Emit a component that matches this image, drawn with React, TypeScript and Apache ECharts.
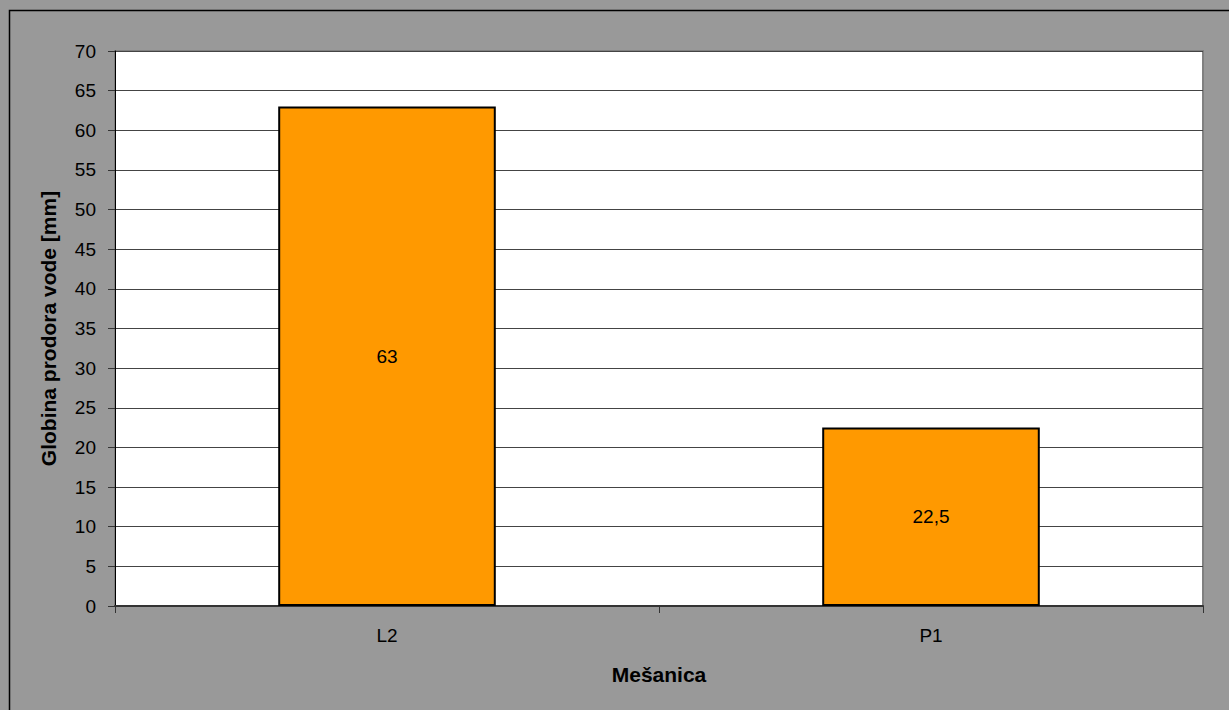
import React, { useEffect, useRef } from "react";
import * as echarts from "echarts";

const categories = ["L2", "P1"];
const depthValues = [63, 22.5];
const yAxisName = "Globina prodora vode [mm]";
const xAxisName = "Mešanica";

export default function App() {
  const ref = useRef<HTMLDivElement>(null);
  useEffect(() => {
    if (!ref.current) return;
    const chart = echarts.init(ref.current, undefined, { renderer: "svg" });
    const font = "'Liberation Sans', Arial, sans-serif";
    chart.setOption({
      animation: false,
      backgroundColor: "#999999",
      textStyle: { fontFamily: font },
      graphic: [
        {
          type: "polyline",
          shape: { points: [[9.5, 800], [9.5, 10.5], [1300, 10.5]] },
          style: { fill: "none", stroke: "#000", lineWidth: 1.5 },
          z: 100,
        },
      ],
      grid: {
        left: 115,
        top: 51,
        right: 26,
        bottom: 104,
        show: true,
        backgroundColor: "#ffffff",
        borderColor: "#808080",
        borderWidth: 2,
      },
      xAxis: {
        type: "category",
        data: categories,
        name: xAxisName,
        nameLocation: "middle",
        nameGap: 58,
        nameTextStyle: { fontSize: 21, fontWeight: "bold", color: "#000", fontFamily: font },
        axisLine: { show: true, lineStyle: { color: "#333", width: 2 } },
        axisTick: { show: true, length: 7, lineStyle: { color: "#333" } },
        axisLabel: { fontSize: 19, color: "#000", margin: 20, fontFamily: font },
      },
      yAxis: {
        type: "value",
        min: 0,
        max: 70,
        interval: 5,
        name: yAxisName,
        nameLocation: "middle",
        nameGap: 56,
        nameTextStyle: { fontSize: 21, fontWeight: "bold", color: "#000", fontFamily: font },
        axisLine: { show: true, lineStyle: { color: "#000", width: 1 } },
        axisTick: { show: true, length: 7, lineStyle: { color: "#333" } },
        axisLabel: { fontSize: 19, color: "#000", margin: 19, fontFamily: font },
        splitLine: { show: true, lineStyle: { color: "#444", width: 1 } },
      },
      series: [
        {
          type: "bar",
          data: depthValues,
          barWidth: "40%",
          itemStyle: { color: "#FF9900", borderColor: "#000", borderWidth: 2 },
          label: {
            show: true,
            position: "inside",
            fontSize: 19,
            color: "#000",
            fontFamily: font,
            formatter: (p: any) => String(p.value).replace(".", ","),
          },
        },
      ],
    });
    return () => chart.dispose();
  }, []);
  return (
    <div
      ref={ref}
      style={{ position: "absolute", left: 0, top: 0, width: 1229, height: 710 }}
    />
  );
}
